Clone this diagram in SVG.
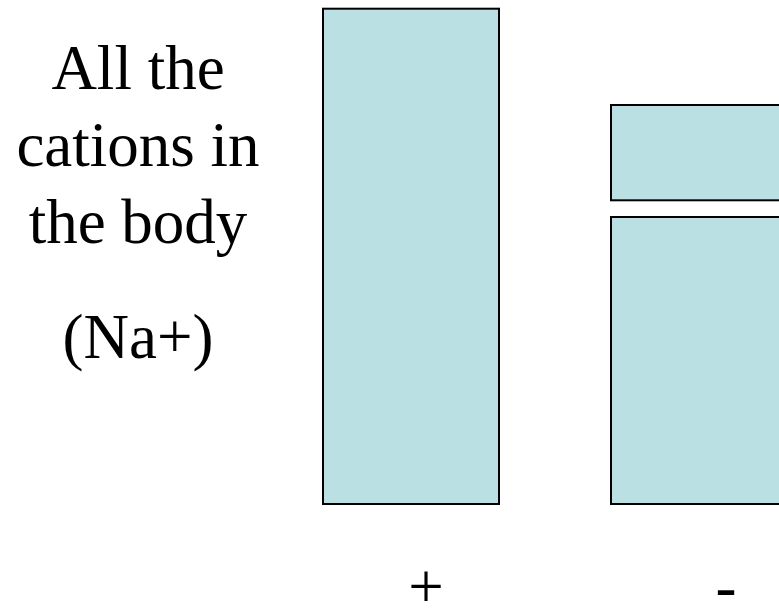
<svg xmlns="http://www.w3.org/2000/svg" width="779" height="610" viewBox="0 0 779 610">
<style>
.bar{fill:#BBE0E3;stroke:#000;stroke-width:2}
.t{font-family:"Liberation Serif","Times New Roman",serif;font-size:63px;fill:#000;text-anchor:middle}
</style>
<rect width="779" height="610" fill="#fff"/>
<g id="label">
<text class="t" x="138" y="89">All the</text>
<text class="t" x="138" y="166">cations in</text>
<text class="t" x="138" y="243">the body</text>
<text class="t" x="138" y="358">(Na+)</text>
</g>
<g id="cations">
<rect class="bar" x="323" y="8.7" width="176" height="495.3"/>
</g>
<g id="anions-top">
<rect class="bar" x="611" y="105" width="200" height="95.3"/>
</g>
<g id="anions-bottom">
<rect class="bar" x="611" y="217" width="200" height="287"/>
</g>
<g id="signs">
<text class="t" x="426" y="608">+</text>
<text class="t" x="726" y="608">-</text>
</g>
<g id="connectors"></g>
</svg>
